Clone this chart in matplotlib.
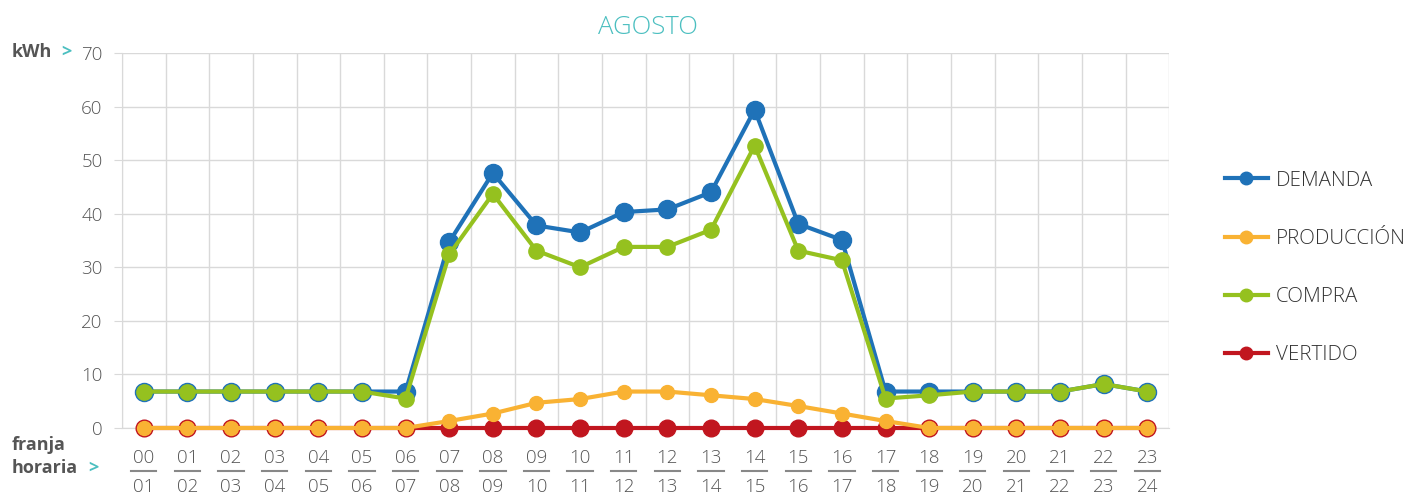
import matplotlib
matplotlib.use("Agg")
import matplotlib.pyplot as plt
from matplotlib.lines import Line2D
from matplotlib.transforms import blended_transform_factory

plt.rcParams['font.family'] = ['Open Sans', 'DejaVu Sans']

# datos (kWh por franja horaria, agosto)
horas_ini = ["00", "01", "02", "03", "04", "05", "06", "07", "08", "09", "10", "11",
             "12", "13", "14", "15", "16", "17", "18", "19", "20", "21", "22", "23"]
horas_fin = ["01", "02", "03", "04", "05", "06", "07", "08", "09", "10", "11", "12",
             "13", "14", "15", "16", "17", "18", "19", "20", "21", "22", "23", "24"]

demanda = [6.8, 6.8, 6.8, 6.8, 6.8, 6.8, 6.8, 34.7, 47.6, 37.8, 36.5, 40.3,
           40.8, 44.0, 59.4, 38.1, 35.1, 6.8, 6.8, 6.8, 6.8, 6.8, 8.2, 6.8]
compra = [6.8, 6.8, 6.8, 6.8, 6.8, 6.8, 5.5, 32.4, 43.7, 33.1, 30.0, 33.8,
          33.8, 37.0, 52.7, 33.1, 31.3, 5.5, 6.1, 6.8, 6.8, 6.8, 8.2, 6.8]
produccion = [0, 0, 0, 0, 0, 0, 0, 1.3, 2.7, 4.7, 5.4, 6.8,
              6.8, 6.1, 5.4, 4.1, 2.7, 1.3, 0, 0, 0, 0, 0, 0]
vertido = [0] * 24

azul = "#1f72b8"
naranja = "#f9b233"
verde = "#95c11f"
rojo = "#c1161f"
gris = "#555555"
teal = "#4bbfc0"

fig = plt.figure(figsize=(14.12, 4.95), dpi=100)
ax = fig.add_axes([0.0864, 0.1354, 0.7416, 0.7576])

x = list(range(len(horas_ini)))

ax.plot(x, demanda, color=azul, lw=3, marker="o", ms=13, zorder=3)
ax.plot(x, compra, color=verde, lw=3, marker="o", ms=11, zorder=4)
ax.plot(x, vertido, color=rojo, lw=3, marker="o", ms=12, zorder=3,
        clip_on=False)
ax.plot(x, produccion, color=naranja, lw=3, marker="o", ms=10, zorder=4,
        clip_on=False)

ax.set_xlim(-0.5, len(x) - 0.5)
ax.set_ylim(0, 70)
ax.set_yticks(range(0, 71, 10))
ax.set_xticks([i - 0.5 for i in range(len(x) + 1)], minor=False)
ax.set_xticklabels([])
ax.grid(True, color="#d9d9d9", lw=1)
ax.set_axisbelow(True)
for s in ["top", "right"]:
    ax.spines[s].set_visible(False)
ax.spines["left"].set_color("#d9d9d9")
ax.spines["bottom"].set_color("#d9d9d9")
ax.tick_params(axis="x", length=0)
ax.tick_params(axis="y", length=6, color="#d9d9d9", labelsize=13.5,
               labelcolor=gris, pad=8)
for lab in ax.get_yticklabels():
    lab.set_fontweight("light")

# etiquetas de franja horaria (dos lineas con separador)
trans = blended_transform_factory(ax.transData, fig.transFigure)
for i in x:
    ax.text(i, 1 - 458 / 495, horas_ini[i], transform=trans, ha="center",
            va="center", fontsize=13.5, color=gris, fontweight="light")
    ax.text(i, 1 - 487 / 495, horas_fin[i], transform=trans, ha="center",
            va="center", fontsize=13.5, color=gris, fontweight="light")
    ax.add_line(Line2D([i - 0.29, i + 0.29], [1 - 471 / 495] * 2, transform=trans,
                       color="#888888", lw=1.5, clip_on=False))

fig.text(0.5 - 0.041, 1 - 27 / 495, "AGOSTO", ha="center", va="center",
         fontsize=18.5, color=teal, fontweight="light")

fig.text(12 / 1412, 1 - 52 / 495, "kWh", ha="left", va="center",
         fontsize=13, color=gris, fontweight="bold")
fig.text(61 / 1412, 1 - 52 / 495, ">", ha="left", va="center",
         fontsize=13, color=teal, fontweight="bold")
fig.text(12 / 1412, 1 - 445 / 495, "franja", ha="left", va="center",
         fontsize=13, color=gris, fontweight="bold")
fig.text(12 / 1412, 1 - 468 / 495, "horaria", ha="left", va="center",
         fontsize=13, color=gris, fontweight="bold")
fig.text(88 / 1412, 1 - 468 / 495, ">", ha="left", va="center",
         fontsize=13, color=teal, fontweight="bold")

# leyenda
handles = [
    Line2D([], [], color=azul, lw=3, marker="o", ms=9),
    Line2D([], [], color=naranja, lw=3, marker="o", ms=9),
    Line2D([], [], color=verde, lw=3, marker="o", ms=9),
    Line2D([], [], color=rojo, lw=3, marker="o", ms=9),
]
labels = ["DEMANDA", "PRODUCCIÓN", "COMPRA", "VERTIDO"]
leg = fig.legend(handles, labels, loc="center left",
                 bbox_to_anchor=(1206 / 1412, 1 - 268 / 495), frameon=False,
                 fontsize=14.8, labelspacing=1.86, handlelength=2.1,
                 handletextpad=0.4)
for t in leg.get_texts():
    t.set_color("#333333")
    t.set_fontweight("light")

fig.savefig("out.png", dpi=100)
